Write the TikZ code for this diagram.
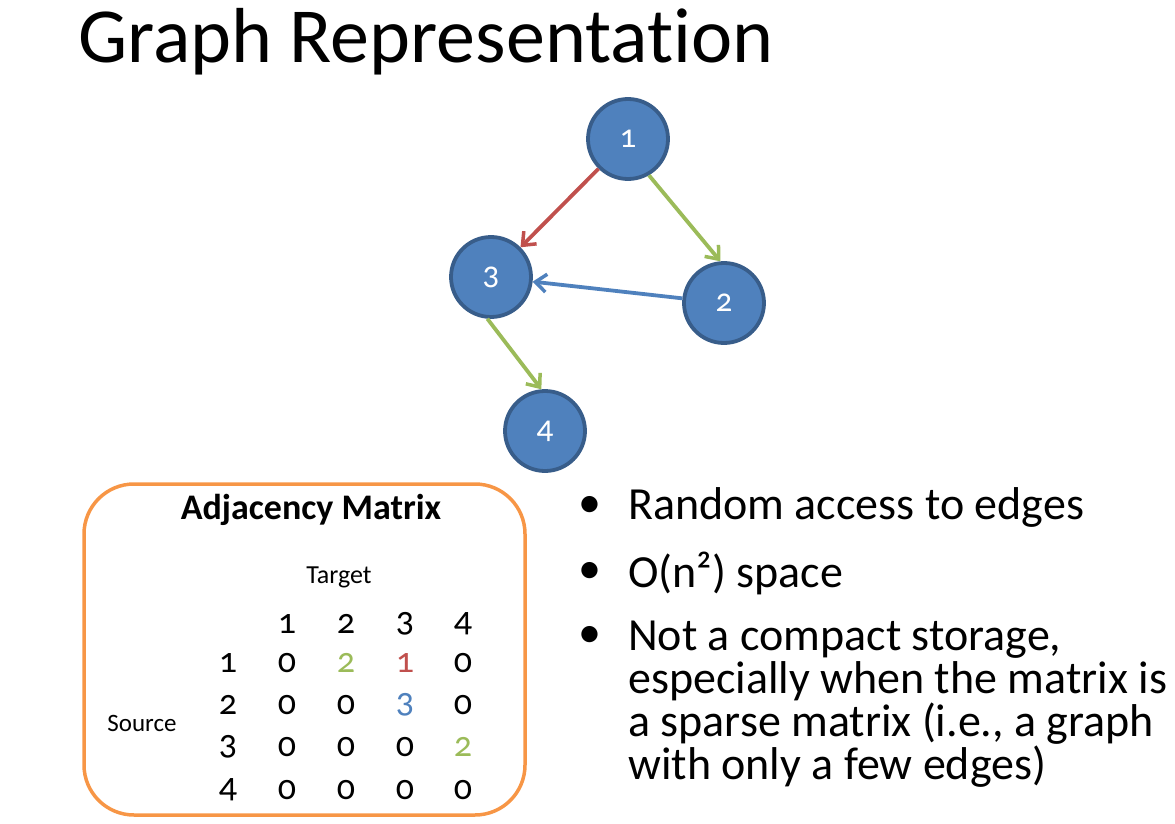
\documentclass[tikz,border=0pt]{standalone}
\usepackage{fontspec}
\setmainfont{Carlito}[Ligatures=NoCommon]
\newfontfamily\oldnum{Carlito}[Numbers=OldStyle]
\usetikzlibrary{arrows.meta}
\definecolor{nodefill}{HTML}{4F81BD}
\definecolor{nodeborder}{HTML}{385D8A}
\definecolor{ered}{HTML}{C0504D}
\definecolor{egreen}{HTML}{9BBB59}
\definecolor{eblue}{HTML}{4F81BD}
\definecolor{borange}{HTML}{F79646}
\tikzset{
  gnode/.style={circle, draw=nodeborder, line width=3.8pt, fill=nodefill, minimum size=80pt, inner sep=0pt, text=white, font=\oldnum\fontsize{33}{34}\selectfont},
  edge/.style={line width=3.8pt, -{Straight Barb[length=11pt,width=18pt,line width=3.5pt]}},
  cell/.style={font=\oldnum\fontsize{36}{38}\selectfont, anchor=center},
  blt/.style={font=\fontsize{46}{43}\selectfont, anchor=west, align=left},
}
\begin{document}
\begin{tikzpicture}[x=1pt,y=-1pt]
\useasboundingbox (0,0) rectangle (1175,824);
\node[anchor=west, font=\fontsize{78}{80}\selectfont, inner sep=0pt] (title) at (78,42) {Graph Representation};
% graph
\node[gnode] (n1) at (628,139) {1};
\node[gnode] (n3) at (491,277) {3};
\node[gnode] (n2) at (724,303) {2};
\node[gnode] (n4) at (545,431) {4};
\draw[edge, ered] (n1) -- (n3);
\draw[edge, egreen] (n1.300) -- (n2.95);
\draw[edge, eblue] (n2) -- (n3);
\draw[edge, egreen] (n3.265) -- (n4.95);
% matrix box
\draw[borange, line width=3.5pt, rounded corners=50pt] (84,484) rectangle (525,815);
\node[font=\bfseries\fontsize{36}{38}\selectfont] (amt) at (311,510) {Adjacency Matrix};
\node[font=\fontsize{26}{28}\selectfont] (tgt) at (339,577) {Target};
\node[font=\fontsize{25}{28}\selectfont] (src) at (142,723) {Source};
\foreach \c/\x in {1/287,2/346,3/405,4/463}{
  \node[cell] (h\c) at (\x,624) {\c};
}
\foreach \r/\y in {1/663,2/705,3/747,4/790}{
  \node[cell] (r\r) at (228,\y) {\r};
}
\node[cell] (m11) at (287,663) {0};
\node[cell, text=egreen] (m12) at (346,663) {2};
\node[cell, text=ered] (m13) at (405,663) {1};
\node[cell] (m14) at (463,663) {0};
\node[cell] (m21) at (287,705) {0};
\node[cell] (m22) at (346,705) {0};
\node[cell, text=eblue] (m23) at (405,705) {3};
\node[cell] (m24) at (463,705) {0};
\node[cell] (m31) at (287,747) {0};
\node[cell] (m32) at (346,747) {0};
\node[cell] (m33) at (405,747) {0};
\node[cell, text=egreen] (m34) at (463,747) {2};
\node[cell] (m41) at (287,790) {0};
\node[cell] (m42) at (346,790) {0};
\node[cell] (m43) at (405,790) {0};
\node[cell] (m44) at (463,790) {0};
% bullets
\node[blt, inner sep=0pt] (b1d) at (578,507) {•};
\node[blt, inner sep=0pt] (b1) at (628,507) {Random access to edges};
\node[blt, inner sep=0pt] (b2d) at (578,573) {•};
\node[blt, inner sep=0pt] (b2) at (628,573) {O(n²) space};
\node[blt, inner sep=0pt] (b3d) at (578,637) {•};
\node[blt, inner sep=0pt, anchor=north west] (b3) at (628,621) {Not a compact storage,\\especially when the matrix is\\a sparse matrix (i.e., a graph\\with only a few edges)};
\end{tikzpicture}
\end{document}
